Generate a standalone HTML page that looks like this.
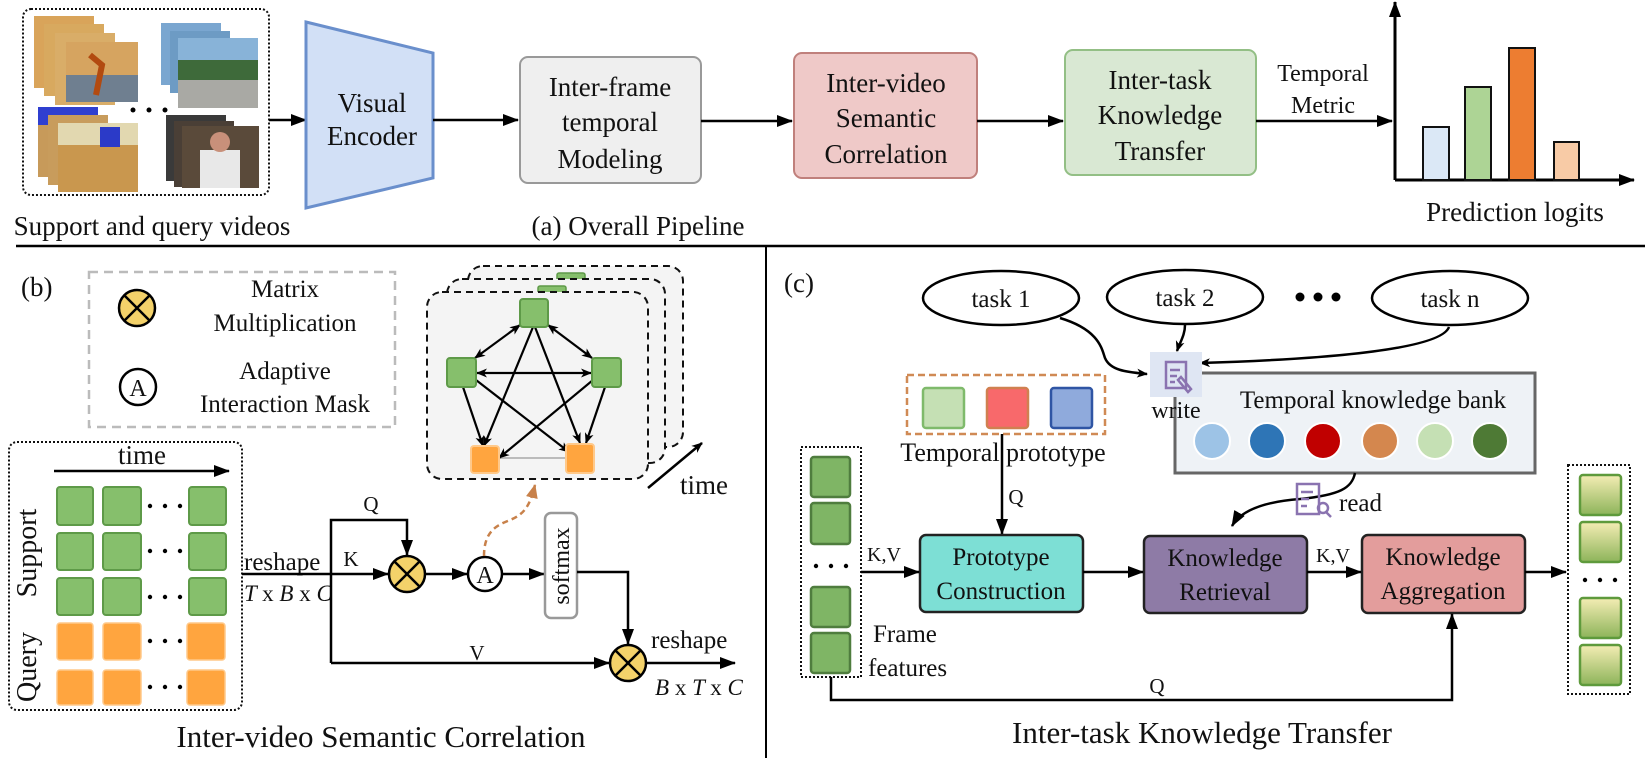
<!DOCTYPE html>
<html><head><meta charset="utf-8"><style>
html,body{margin:0;padding:0;background:#fff}
svg{display:block}
text{font-family:"Liberation Serif",serif;fill:#111}
</style></head><body>
<svg width="1645" height="758" viewBox="0 0 1645 758" xmlns="http://www.w3.org/2000/svg">
<defs>
<marker id="ah" markerUnits="userSpaceOnUse" markerWidth="16" markerHeight="12" refX="15" refY="6" orient="auto-start-reverse"><path d="M0,0 L16,6 L0,12 z" fill="#000"/></marker>
<marker id="sa" markerUnits="userSpaceOnUse" markerWidth="11" markerHeight="9" refX="10" refY="4.5" orient="auto-start-reverse"><path d="M0,0 L11,4.5 L0,9 L3,4.5 z" fill="#000"/></marker>
<marker id="oa" markerUnits="userSpaceOnUse" markerWidth="14" markerHeight="12" refX="13" refY="6" orient="auto"><path d="M0,0 L14,6 L0,12 z" fill="#c8814a"/></marker>
<linearGradient id="gy" x1="0" y1="0" x2="0" y2="1"><stop offset="0" stop-color="#f4edb4"/><stop offset="1" stop-color="#8db45a"/></linearGradient>
</defs>

<!-- ===== (a) pipeline ===== -->
<rect x="23" y="9" width="246" height="186" rx="8" fill="none" stroke="#111" stroke-width="2" stroke-dasharray="2,2"/>
<!-- thumbnails -->
<g>
<rect x="34" y="16" width="60" height="72" fill="#d9a45a"/><rect x="44" y="24" width="60" height="72" fill="#d8a95f"/><rect x="55" y="33" width="60" height="72" fill="#d9ad68"/>
<rect x="66" y="42" width="72" height="60" fill="#d6a460"/><rect x="66" y="75" width="72" height="27" fill="#6f7f90"/><path d="M90,55 l12,10 l-6,30" stroke="#b24a10" stroke-width="6" fill="none"/>
<rect x="161" y="23" width="60" height="62" fill="#7aa6d0"/><rect x="170" y="31" width="60" height="62" fill="#6d9bc4"/><rect x="178" y="38" width="80" height="70" fill="#88b3d8"/><rect x="178" y="60" width="80" height="20" fill="#3e6a3a"/><rect x="178" y="80" width="80" height="28" fill="#a9a9a4"/>
<rect x="38" y="107" width="60" height="70" fill="#c79a5a"/><rect x="38" y="107" width="60" height="18" fill="#2f3fd0"/><rect x="48" y="115" width="60" height="70" fill="#c89c5c"/><rect x="58" y="123" width="80" height="69" fill="#c9974e"/><rect x="58" y="123" width="80" height="22" fill="#e2d8b0"/><rect x="100" y="127" width="20" height="20" fill="#2b3ac8"/>
<rect x="166" y="115" width="60" height="66" fill="#3a3a3a"/><rect x="174" y="121" width="60" height="66" fill="#4a3f36"/><rect x="182" y="126" width="77" height="62" fill="#5a4a3a"/><rect x="200" y="150" width="40" height="38" fill="#e8e8e8"/><circle cx="220" cy="142" r="10" fill="#c8907a"/>
<circle cx="133" cy="110" r="2.5" fill="#000"/><circle cx="149" cy="110" r="2.5" fill="#000"/><circle cx="165" cy="110" r="2.5" fill="#000"/>
</g>
<line x1="269" y1="120" x2="306" y2="120" stroke="#000" stroke-width="2.5" marker-end="url(#ah)"/>
<path d="M306,22 L433,53 L433,178 L306,208 z" fill="#d2e0f6" stroke="#6a8fcc" stroke-width="3"/>
<text x="372" y="112" font-size="27" text-anchor="middle">Visual</text>
<text x="372" y="145" font-size="27" text-anchor="middle">Encoder</text>
<line x1="433" y1="120" x2="518" y2="120" stroke="#000" stroke-width="2.5" marker-end="url(#ah)"/>
<rect x="520" y="57" width="181" height="126" rx="8" fill="#efefef" stroke="#999" stroke-width="2"/>
<text x="610" y="96" font-size="27" text-anchor="middle">Inter-frame</text>
<text x="610" y="131" font-size="27" text-anchor="middle">temporal</text>
<text x="610" y="168" font-size="27" text-anchor="middle">Modeling</text>
<line x1="701" y1="121" x2="792" y2="121" stroke="#000" stroke-width="2.5" marker-end="url(#ah)"/>
<rect x="794" y="53" width="183" height="125" rx="8" fill="#efc9c8" stroke="#c0807c" stroke-width="2"/>
<text x="886" y="92" font-size="27" text-anchor="middle">Inter-video</text>
<text x="886" y="127" font-size="27" text-anchor="middle">Semantic</text>
<text x="886" y="163" font-size="27" text-anchor="middle">Correlation</text>
<line x1="977" y1="121" x2="1063" y2="121" stroke="#000" stroke-width="2.5" marker-end="url(#ah)"/>
<rect x="1065" y="50" width="191" height="125" rx="8" fill="#d9e8d3" stroke="#93bf85" stroke-width="2"/>
<text x="1160" y="89" font-size="27" text-anchor="middle">Inter-task</text>
<text x="1160" y="124" font-size="27" text-anchor="middle">Knowledge</text>
<text x="1160" y="160" font-size="27" text-anchor="middle">Transfer</text>
<line x1="1256" y1="121" x2="1392" y2="121" stroke="#000" stroke-width="2.5" marker-end="url(#ah)"/>
<text x="1323" y="81" font-size="24" text-anchor="middle">Temporal</text>
<text x="1323" y="113" font-size="24" text-anchor="middle">Metric</text>
<line x1="1395" y1="180" x2="1395" y2="2" stroke="#000" stroke-width="3" marker-end="url(#ah)"/>
<line x1="1395" y1="180" x2="1634" y2="180" stroke="#000" stroke-width="3" marker-end="url(#ah)"/>
<rect x="1423" y="127" width="26" height="53" fill="#dbe8f6" stroke="#111" stroke-width="2"/>
<rect x="1465" y="87" width="26" height="93" fill="#add495" stroke="#111" stroke-width="2"/>
<rect x="1509" y="48" width="26" height="132" fill="#ed7d31" stroke="#111" stroke-width="2"/>
<rect x="1554" y="142" width="25" height="38" fill="#f8cba6" stroke="#111" stroke-width="2"/>
<text x="1515" y="221" font-size="27" text-anchor="middle">Prediction logits</text>
<text x="152" y="235" font-size="27" text-anchor="middle">Support and query videos</text>
<text x="638" y="235" font-size="27" text-anchor="middle">(a) Overall Pipeline</text>

<line x1="16" y1="246" x2="1645" y2="246" stroke="#000" stroke-width="2.5"/>
<line x1="766" y1="246" x2="766" y2="758" stroke="#000" stroke-width="2"/>

<!-- ===== (b) ===== -->
<text x="21" y="296" font-size="27">(b)</text>
<rect x="89" y="272" width="306" height="155" fill="none" stroke="#bbb" stroke-width="2.5" stroke-dasharray="9,6"/>
<circle cx="137" cy="308" r="18" fill="#f4d26a" stroke="#000" stroke-width="2.5"/>
<path d="M124,295 L150,321 M150,295 L124,321" stroke="#000" stroke-width="2.5"/>
<circle cx="138" cy="387" r="18" fill="#fff" stroke="#000" stroke-width="2.5"/>
<text x="138" y="396" font-size="24" text-anchor="middle">A</text>
<text x="285" y="297" font-size="25" text-anchor="middle">Matrix</text>
<text x="285" y="331" font-size="25" text-anchor="middle">Multiplication</text>
<text x="285" y="379" font-size="25" text-anchor="middle">Adaptive</text>
<text x="285" y="412" font-size="25" text-anchor="middle">Interaction Mask</text>

<!-- graph stack -->
<rect x="468" y="266" width="215" height="181" rx="15" fill="#f4f4f4" stroke="#111" stroke-width="2" stroke-dasharray="7,5"/>
<rect x="557" y="273" width="28" height="10" rx="2" fill="#86bf6c" stroke="#5e9a48" stroke-width="1.5"/>
<rect x="447" y="279" width="218" height="184" rx="15" fill="#f4f4f4" stroke="#111" stroke-width="2" stroke-dasharray="7,5"/>
<rect x="538" y="286" width="28" height="10" rx="2" fill="#86bf6c" stroke="#5e9a48" stroke-width="1.5"/>
<rect x="427" y="292" width="221" height="187" rx="15" fill="#f4f4f4" stroke="#111" stroke-width="2" stroke-dasharray="7,5"/>
<line x1="497" y1="458" x2="568" y2="458" stroke="#bbb" stroke-width="2"/>
<g stroke="#000" stroke-width="2.2" fill="none">
<line x1="520" y1="325" x2="475" y2="358" marker-start="url(#sa)" marker-end="url(#sa)"/>
<line x1="548" y1="325" x2="592" y2="358" marker-start="url(#sa)" marker-end="url(#sa)"/>
<line x1="477" y1="373" x2="591" y2="373" marker-start="url(#sa)" marker-end="url(#sa)"/>
<line x1="533" y1="327" x2="484" y2="446" marker-end="url(#sa)"/>
<line x1="535" y1="327" x2="580" y2="443" marker-end="url(#sa)"/>
<line x1="463" y1="387" x2="483" y2="446" marker-end="url(#sa)"/>
<line x1="476" y1="380" x2="569" y2="452" marker-end="url(#sa)"/>
<line x1="593" y1="380" x2="499" y2="458" marker-end="url(#sa)"/>
<line x1="605" y1="387" x2="586" y2="443" marker-end="url(#sa)"/>
</g>
<rect x="520" y="299" width="28" height="28" rx="3" fill="#86bf6c" stroke="#5e9a48" stroke-width="2"/>
<rect x="447" y="358" width="29" height="29" rx="3" fill="#86bf6c" stroke="#5e9a48" stroke-width="2"/>
<rect x="592" y="358" width="29" height="29" rx="3" fill="#86bf6c" stroke="#5e9a48" stroke-width="2"/>
<rect x="471" y="446" width="28" height="27" rx="3" fill="#ffa53f" stroke="#ffc98a" stroke-width="2"/>
<rect x="566" y="444" width="28" height="29" rx="3" fill="#ffa53f" stroke="#ffc98a" stroke-width="2"/>
<line x1="648" y1="488" x2="702" y2="443" stroke="#000" stroke-width="2.5" marker-end="url(#sa)"/>
<text x="680" y="494" font-size="27">time</text>

<!-- support/query -->
<rect x="9" y="442" width="233" height="268" rx="8" fill="none" stroke="#111" stroke-width="2" stroke-dasharray="2,2"/>
<text x="142" y="464" font-size="27" text-anchor="middle">time</text>
<line x1="54" y1="471" x2="229" y2="471" stroke="#000" stroke-width="2.5" marker-end="url(#ah)"/>
<g>
<rect x="57" y="487" width="36" height="38" rx="3" fill="#86bf6c" stroke="#5e9a48" stroke-width="2"/><rect x="103" y="487" width="38" height="38" rx="3" fill="#86bf6c" stroke="#5e9a48" stroke-width="2"/><rect x="189" y="487" width="37" height="38" rx="3" fill="#86bf6c" stroke="#5e9a48" stroke-width="2"/>
<rect x="57" y="533" width="36" height="37" rx="3" fill="#86bf6c" stroke="#5e9a48" stroke-width="2"/><rect x="103" y="533" width="38" height="37" rx="3" fill="#86bf6c" stroke="#5e9a48" stroke-width="2"/><rect x="189" y="533" width="37" height="37" rx="3" fill="#86bf6c" stroke="#5e9a48" stroke-width="2"/>
<rect x="57" y="578" width="36" height="37" rx="3" fill="#86bf6c" stroke="#5e9a48" stroke-width="2"/><rect x="103" y="578" width="38" height="37" rx="3" fill="#86bf6c" stroke="#5e9a48" stroke-width="2"/><rect x="189" y="578" width="37" height="37" rx="3" fill="#86bf6c" stroke="#5e9a48" stroke-width="2"/>
<rect x="57" y="623" width="36" height="37" rx="3" fill="#ffa53f" stroke="#ffc98a" stroke-width="1.5"/><rect x="103" y="623" width="38" height="37" rx="3" fill="#ffa53f" stroke="#ffc98a" stroke-width="1.5"/><rect x="187" y="623" width="38" height="37" rx="3" fill="#ffa53f" stroke="#ffc98a" stroke-width="1.5"/>
<rect x="57" y="670" width="36" height="35" rx="3" fill="#ffa53f" stroke="#ffc98a" stroke-width="1.5"/><rect x="103" y="670" width="38" height="35" rx="3" fill="#ffa53f" stroke="#ffc98a" stroke-width="1.5"/><rect x="187" y="670" width="38" height="35" rx="3" fill="#ffa53f" stroke="#ffc98a" stroke-width="1.5"/>
</g>
<g fill="#000"><circle cx="150" cy="506" r="2.2"/><circle cx="165" cy="506" r="2.2"/><circle cx="180" cy="506" r="2.2"/>
<circle cx="150" cy="551" r="2.2"/><circle cx="165" cy="551" r="2.2"/><circle cx="180" cy="551" r="2.2"/>
<circle cx="150" cy="597" r="2.2"/><circle cx="165" cy="597" r="2.2"/><circle cx="180" cy="597" r="2.2"/>
<circle cx="150" cy="641" r="2.2"/><circle cx="165" cy="641" r="2.2"/><circle cx="180" cy="641" r="2.2"/>
<circle cx="150" cy="687" r="2.2"/><circle cx="165" cy="687" r="2.2"/><circle cx="180" cy="687" r="2.2"/></g>
<text transform="translate(36,553) rotate(-90)" font-size="28" text-anchor="middle">Support</text>
<text transform="translate(36,667) rotate(-90)" font-size="28" text-anchor="middle">Query</text>

<!-- flow -->
<text x="244" y="570" font-size="25">reshape</text>
<text x="244" y="601" font-size="23" font-style="italic">T <tspan font-style="normal">x</tspan> B <tspan font-style="normal">x</tspan> C</text>
<line x1="242" y1="574" x2="388" y2="574" stroke="#000" stroke-width="2.5" marker-end="url(#ah)"/>
<polyline points="331,663 331,520 407,520 407,555" fill="none" stroke="#000" stroke-width="2.5" marker-end="url(#ah)"/>
<text x="371" y="511" font-size="21" text-anchor="middle">Q</text>
<text x="351" y="566" font-size="21" text-anchor="middle">K</text>
<circle cx="407" cy="574" r="18" fill="#f4d26a" stroke="#000" stroke-width="2.5"/>
<path d="M394,561 L420,587 M420,561 L394,587" stroke="#000" stroke-width="2.5"/>
<line x1="425" y1="574" x2="467" y2="574" stroke="#000" stroke-width="2.5" marker-end="url(#ah)"/>
<circle cx="485" cy="574" r="17" fill="#fff" stroke="#000" stroke-width="2.5"/>
<text x="485" y="583" font-size="24" text-anchor="middle">A</text>
<path d="M484,556 C484,530 498,525 510,520 C525,514 530,505 535,485" fill="none" stroke="#c8814a" stroke-width="2.5" stroke-dasharray="6,4" marker-end="url(#oa)"/>
<line x1="502" y1="574" x2="544" y2="574" stroke="#000" stroke-width="2.5" marker-end="url(#ah)"/>
<rect x="545" y="513" width="32" height="105" rx="6" fill="#fff" stroke="#999" stroke-width="2.5"/>
<text transform="translate(569,566) rotate(-90)" font-size="24" text-anchor="middle">softmax</text>
<polyline points="577,572 628,572 628,644" fill="none" stroke="#000" stroke-width="2.5" marker-end="url(#ah)"/>
<line x1="331" y1="663" x2="609" y2="663" stroke="#000" stroke-width="2.5" marker-end="url(#ah)"/>
<text x="477" y="660" font-size="21" text-anchor="middle">V</text>
<circle cx="628" cy="663" r="18" fill="#f4d26a" stroke="#000" stroke-width="2.5"/>
<path d="M615,650 L641,676 M641,650 L615,676" stroke="#000" stroke-width="2.5"/>
<line x1="646" y1="663" x2="735" y2="663" stroke="#000" stroke-width="2.5" marker-end="url(#ah)"/>
<text x="651" y="648" font-size="25">reshape</text>
<text x="655" y="695" font-size="23" font-style="italic">B <tspan font-style="normal">x</tspan> T <tspan font-style="normal">x</tspan> C</text>
<text x="381" y="747" font-size="31" text-anchor="middle">Inter-video Semantic Correlation</text>

<!-- ===== (c) ===== -->
<text x="784" y="292" font-size="27">(c)</text>
<ellipse cx="1001" cy="298" rx="78" ry="27" fill="#fff" stroke="#000" stroke-width="2.5"/>
<text x="1001" y="307" font-size="25" text-anchor="middle">task 1</text>
<ellipse cx="1185" cy="297" rx="78" ry="27" fill="#fff" stroke="#000" stroke-width="2.5"/>
<text x="1185" y="306" font-size="25" text-anchor="middle">task 2</text>
<g fill="#000"><circle cx="1300" cy="297" r="4.5"/><circle cx="1318" cy="297" r="4.5"/><circle cx="1336" cy="297" r="4.5"/></g>
<ellipse cx="1450" cy="298" rx="78" ry="27" fill="#fff" stroke="#000" stroke-width="2.5"/>
<text x="1450" y="307" font-size="25" text-anchor="middle">task n</text>
<g fill="none" stroke="#000" stroke-width="2.5">
<path d="M1060,318 C1100,330 1102,350 1105,358 C1110,370 1125,372 1147,374" marker-end="url(#sa)"/>
<path d="M1185,325 C1185,335 1180,342 1177,351" marker-end="url(#sa)"/>
<path d="M1449,327 C1440,352 1300,360 1200,363" marker-end="url(#sa)"/>
</g>
<rect x="1175" y="373" width="360" height="100" fill="#eef2f6" stroke="#666" stroke-width="3"/>
<rect x="1150" y="352" width="52" height="45" fill="#dfe6f3"/>
<g fill="none" stroke="#8a73b0" stroke-width="2.5">
<path d="M1166,362 h20 v26 h-20 z"/><path d="M1170,370 h10 M1170,376 h7 M1170,382 h5"/><path d="M1181,377 l10,12 l-3,3 l-10,-12 z"/>
</g>
<text x="1176" y="418" font-size="24" text-anchor="middle">write</text>
<text x="1373" y="408" font-size="25" text-anchor="middle">Temporal knowledge bank</text>
<g stroke="#fff" stroke-width="2">
<circle cx="1212" cy="441" r="18" fill="#9dc3e6"/><circle cx="1267" cy="441" r="18" fill="#2e75b6"/><circle cx="1323" cy="441" r="18" fill="#c00000"/>
<circle cx="1380" cy="441" r="18" fill="#d4874e"/><circle cx="1435" cy="441" r="18" fill="#c5e0b4"/><circle cx="1490" cy="441" r="18" fill="#4e7a35"/>
</g>
<rect x="907" y="375" width="198" height="59" fill="none" stroke="#d08a55" stroke-width="2.5" stroke-dasharray="7,4"/>
<rect x="923" y="388" width="41" height="40" rx="3" fill="#c5e0b4" stroke="#7fba6b" stroke-width="2.5"/>
<rect x="987" y="388" width="41" height="40" rx="3" fill="#f8696b" stroke="#d08050" stroke-width="2.5"/>
<rect x="1051" y="388" width="41" height="40" rx="3" fill="#8faadc" stroke="#2f55a4" stroke-width="2.5"/>
<text x="1003" y="461" font-size="26" text-anchor="middle">Temporal prototype</text>
<line x1="1002" y1="434" x2="1002" y2="534" stroke="#000" stroke-width="2.5" marker-end="url(#ah)"/>
<text x="1016" y="504" font-size="21" text-anchor="middle">Q</text>
<path d="M1355,473 C1352,488 1340,495 1300,499 C1260,502 1240,512 1232,526" fill="none" stroke="#000" stroke-width="2.5" marker-end="url(#ah)"/>
<rect x="1293" y="480" width="42" height="40" fill="#eef2f6" opacity="0"/>
<g fill="none" stroke="#8a73b0" stroke-width="2.5">
<path d="M1297,484 h22 v30 h-22 z"/><path d="M1301,492 h12 M1301,499 h8 M1301,506 h6"/><circle cx="1323" cy="508" r="5"/><path d="M1326,512 l5,5"/>
</g>
<text x="1339" y="511" font-size="25">read</text>

<rect x="920" y="535" width="163" height="77" rx="6" fill="#7ddfd5" stroke="#222" stroke-width="2.5"/>
<text x="1001" y="565" font-size="25" text-anchor="middle">Prototype</text>
<text x="1001" y="599" font-size="25" text-anchor="middle">Construction</text>
<rect x="1144" y="536" width="163" height="77" rx="6" fill="#8e7ba6" stroke="#222" stroke-width="2.5"/>
<text x="1225" y="566" font-size="25" text-anchor="middle">Knowledge</text>
<text x="1225" y="600" font-size="25" text-anchor="middle">Retrieval</text>
<rect x="1362" y="535" width="163" height="78" rx="6" fill="#e39d9c" stroke="#222" stroke-width="2.5"/>
<text x="1443" y="565" font-size="25" text-anchor="middle">Knowledge</text>
<text x="1443" y="599" font-size="25" text-anchor="middle">Aggregation</text>

<rect x="801" y="447" width="60" height="230" fill="none" stroke="#111" stroke-width="2" stroke-dasharray="2,2"/>
<g fill="#7fb565" stroke="#4f7d3e" stroke-width="2.5">
<rect x="811" y="457" width="39" height="40" rx="3"/><rect x="811" y="503" width="39" height="41" rx="3"/>
<rect x="811" y="587" width="39" height="40" rx="3"/><rect x="811" y="633" width="39" height="40" rx="3"/>
</g>
<g fill="#000"><circle cx="816" cy="566" r="2.2"/><circle cx="831" cy="566" r="2.2"/><circle cx="846" cy="566" r="2.2"/></g>
<text x="873" y="642" font-size="25">Frame</text>
<text x="868" y="676" font-size="25">features</text>
<line x1="861" y1="572" x2="919" y2="572" stroke="#000" stroke-width="2.5" marker-end="url(#ah)"/>
<text x="884" y="561" font-size="20" text-anchor="middle">K,V</text>
<line x1="1083" y1="572" x2="1143" y2="572" stroke="#000" stroke-width="2.5" marker-end="url(#ah)"/>
<line x1="1307" y1="572" x2="1361" y2="572" stroke="#000" stroke-width="2.5" marker-end="url(#ah)"/>
<text x="1333" y="562" font-size="20" text-anchor="middle">K,V</text>
<line x1="1525" y1="572" x2="1566" y2="572" stroke="#000" stroke-width="2.5" marker-end="url(#ah)"/>
<polyline points="831,677 831,700 1452,700 1452,614" fill="none" stroke="#000" stroke-width="2.5" marker-end="url(#ah)"/>
<text x="1157" y="693" font-size="21" text-anchor="middle">Q</text>

<rect x="1568" y="465" width="62" height="229" fill="none" stroke="#111" stroke-width="2" stroke-dasharray="2,2"/>
<g fill="url(#gy)" stroke="#5e9a3c" stroke-width="2.5">
<rect x="1580" y="475" width="41" height="40" rx="3"/><rect x="1580" y="522" width="41" height="40" rx="3"/>
<rect x="1580" y="598" width="41" height="40" rx="3"/><rect x="1580" y="645" width="41" height="40" rx="3"/>
</g>
<g fill="#000"><circle cx="1585" cy="580" r="2.2"/><circle cx="1600" cy="580" r="2.2"/><circle cx="1615" cy="580" r="2.2"/></g>
<text x="1202" y="743" font-size="31" text-anchor="middle">Inter-task Knowledge Transfer</text>
</svg>
</body></html>
